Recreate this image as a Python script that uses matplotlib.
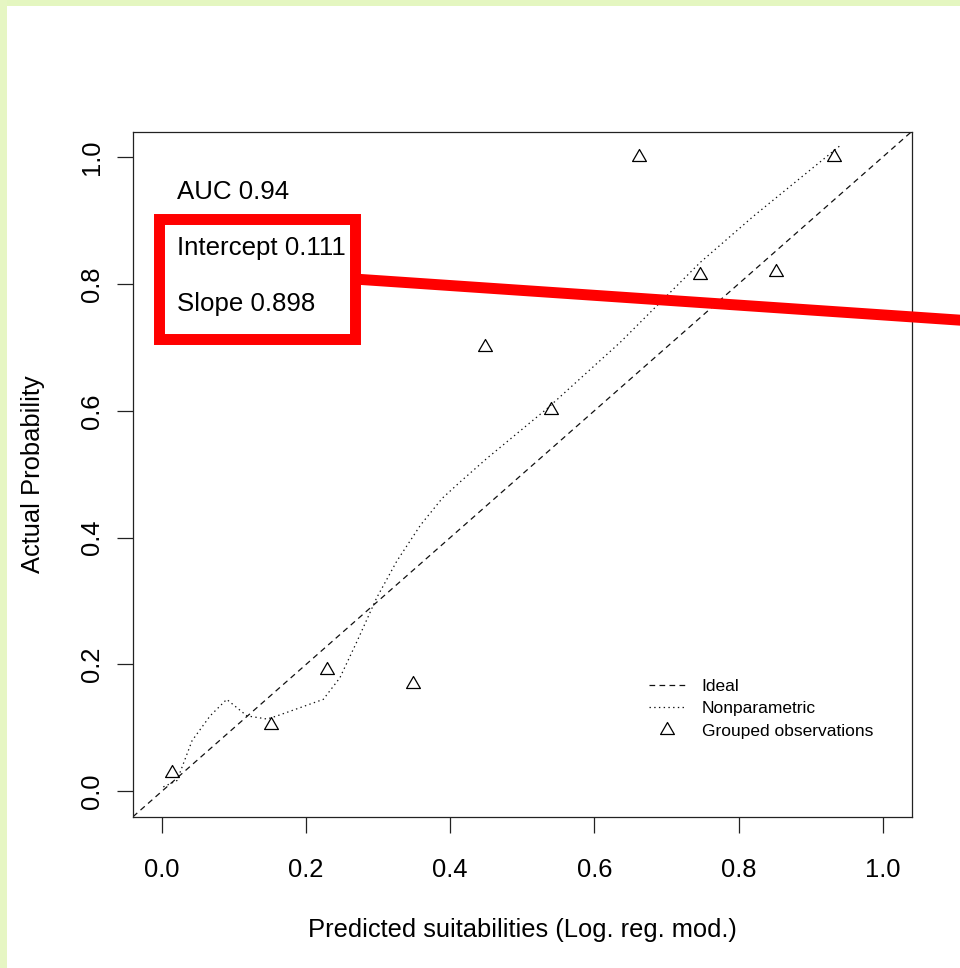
import matplotlib
matplotlib.use("Agg")
import matplotlib.pyplot as plt
from matplotlib.patches import Rectangle
from matplotlib.lines import Line2D
from matplotlib.path import Path

plt.rcParams['font.family'] = ['Liberation Sans', 'DejaVu Sans']
plt.rcParams['lines.scale_dashes'] = False

# ---- data ----
ideal_x = [-0.04, 1.04]
ideal_y = [-0.04, 1.04]

nonpar_x = [0.002, 0.021, 0.042, 0.067, 0.090, 0.118, 0.146, 0.160, 0.224, 0.247,
            0.271, 0.298, 0.326, 0.359, 0.389, 0.414, 0.451, 0.534, 0.636, 0.747,
            0.821, 0.942]
nonpar_y = [0.007, 0.017, 0.080, 0.119, 0.145, 0.119, 0.114, 0.119, 0.145, 0.179,
            0.237, 0.305, 0.363, 0.420, 0.462, 0.488, 0.525, 0.603, 0.708, 0.834,
            0.907, 1.019]

group_x = [0.0146, 0.151, 0.229, 0.348, 0.448, 0.540, 0.662, 0.747, 0.852, 0.932]
group_y = [0.029, 0.104, 0.191, 0.170, 0.700, 0.601, 1.000, 0.814, 0.819, 1.000]

ticks = [0.0, 0.2, 0.4, 0.6, 0.8, 1.0]
tick_labels = ["0.0", "0.2", "0.4", "0.6", "0.8", "1.0"]

stats_labels = ["AUC 0.94", "Intercept 0.111", "Slope 0.898"]
stats_y = [0.934, 0.846, 0.757]
legend_labels = ["Ideal", "Nonparametric", "Grouped observations"]

W, H = 960, 968
fig = plt.figure(figsize=(W / 100, H / 100), dpi=100)
fig.patch.set_facecolor('white')

def fx(px):
    return px / W

def fy(py):
    return 1 - py / H

# page border (light green)
fig.patches.append(Rectangle((0, fy(6)), 1, 6 / H, transform=fig.transFigure,
                             facecolor='#e4f6c0', edgecolor='none', zorder=0))
fig.patches.append(Rectangle((0, 0), 7 / W, 1, transform=fig.transFigure,
                             facecolor='#e6f6c3', edgecolor='none', zorder=0))

ax = fig.add_axes([fx(133), fy(816.7), (911.5 - 133) / W, (816.7 - 131.7) / H])
ax.set_xlim(-0.04, 1.04)
ax.set_ylim(-0.04, 1.04)

tri = Path([(0, 1), (-0.866, -0.5), (0.866, -0.5), (0, 1)],
           [Path.MOVETO, Path.LINETO, Path.LINETO, Path.CLOSEPOLY])

ax.plot(ideal_x, ideal_y, color='#111111', lw=0.9, dashes=(4.1, 3.1), label=legend_labels[0])
ax.plot(nonpar_x, nonpar_y, color='#111111', lw=0.9, dashes=(1.0, 2.4), label=legend_labels[1])
ax.plot(group_x, group_y, linestyle='none', marker=tri, markersize=11.5,
        markerfacecolor='none', markeredgecolor='black', markeredgewidth=0.9,
        label=legend_labels[2])

for s in ax.spines.values():
    s.set_linewidth(0.9)
    s.set_color('#222222')

ax.set_xticks(ticks)
ax.set_xticklabels(tick_labels)
ax.set_yticks(ticks)
ax.set_yticklabels(tick_labels, rotation=90, va='center')
ax.tick_params(axis='both', direction='out', length=11.5, width=0.9,
               color='#222222', labelsize=18.4)
ax.tick_params(axis='x', pad=18)
ax.tick_params(axis='y', pad=9.6)

ax.set_xlabel("Predicted suitabilities (Log. reg. mod.)", fontsize=18.4, va='baseline')
ax.xaxis.set_label_coords(0.5, -(936.7 - 816.7) / 685)
ax.set_ylabel("Actual Probability", fontsize=18.4, va='baseline')
ax.yaxis.set_label_coords(-(133 - 40) / 778.5, 0.5)

for lab, yv in zip(stats_labels, stats_y):
    ax.text(0.021, yv, lab, fontsize=18.6, ha='left', va='baseline')

leg = ax.legend(loc='upper left', bbox_to_anchor=(fx(649), fy(679)),
                bbox_transform=fig.transFigure, frameon=False, fontsize=12.5,
                handlelength=2.07, handletextpad=0.96, labelspacing=0.41,
                borderpad=0, borderaxespad=0)

# red highlight annotation
fig.patches.append(Rectangle((fx(158.8), fy(339.2)), (354.5 - 158.8) / W, (339.2 - 218.8) / H,
                             transform=fig.transFigure, facecolor='none',
                             edgecolor='#ff0000', linewidth=7.9, joinstyle='miter', zorder=10))
fig.lines.append(Line2D([fx(354), fx(965)], [fy(279.0), fy(320.5)], transform=fig.transFigure,
                        color='#ff0000', linewidth=7.9, solid_capstyle='butt', zorder=10))

fig.savefig("out.png", dpi=100)
